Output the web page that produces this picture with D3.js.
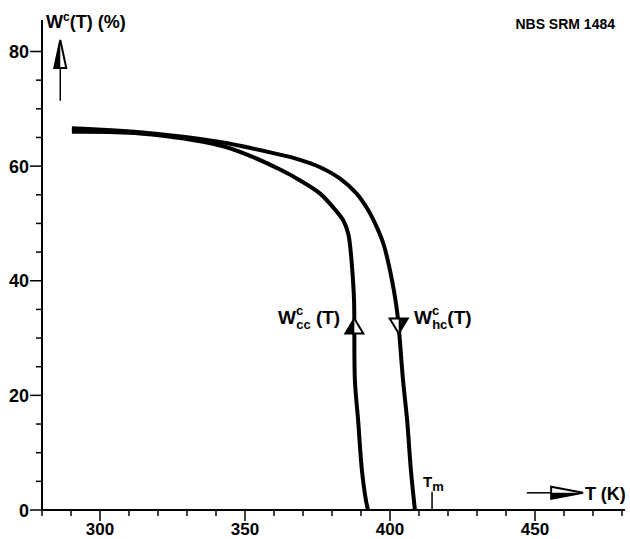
<!DOCTYPE html>
<html>
<head>
<meta charset="utf-8">
<script src="https://cdn.jsdelivr.net/npm/d3@7"></script>
<style>
  body { margin: 0; background: #fff; }
  svg text { font-family: "Liberation Sans", Arial, sans-serif; font-weight: bold; fill: #000; }
</style>
</head>
<body>
<div id="chart"></div>
<script>
// heating curve W^c_hc(T): temperature (K), crystallinity (%)
const hcT = [290.3, 313.8, 341.4, 362.1, 369.0, 375.9, 382.8, 388.5, 392.5, 395.4, 397.7, 400.0, 402.4, 404.5, 405.9, 407.2, 408.6];
const hcW = [66.6, 65.9, 64.2, 62.0, 61.1, 59.8, 57.8, 55.2, 52.3, 49.4, 46.5, 41.8, 34.8, 22.6, 15.7, 7.0, 0];
// cooling curve W^c_cc(T)
const ccT = [290.3, 313.8, 341.4, 351.7, 362.1, 369.0, 375.9, 380.4, 383.9, 385.6, 386.4, 387.0, 387.6, 387.9, 389.0, 390.3, 391.7, 392.4];
const ccW = [66.0, 65.7, 63.6, 61.8, 59.4, 57.5, 55.2, 52.8, 50.5, 48.2, 45.3, 41.8, 36.6, 22.6, 15.7, 7.0, 1.7, 0];

const xTicks = [300, 350, 400, 450];
const yTicks = [0, 20, 40, 60, 80];
const meltT = 414.5;

const width = 630, height = 539;
const svg = d3.select("#chart").append("svg")
    .attr("width", width)
    .attr("height", height);

const x = d3.scaleLinear().domain([280, 480]).range([42, 622]);
const y = d3.scaleLinear().domain([0, 80]).range([510, 51.5]);

// axes lines
svg.append("line")
    .attr("x1", x(280)).attr("x2", x(481))
    .attr("y1", y(0)).attr("y2", y(0))
    .attr("stroke", "#000").attr("stroke-width", 2);
svg.append("line")
    .attr("x1", x(280)).attr("x2", x(280))
    .attr("y1", y(0)).attr("y2", y(85.5))
    .attr("stroke", "#000").attr("stroke-width", 2);

// x ticks (minor every 10, major labelled)
d3.range(280, 481, 10).forEach(t => {
    const major = xTicks.includes(t);
    svg.append("line")
        .attr("x1", x(t)).attr("x2", x(t))
        .attr("y1", y(0)).attr("y2", y(0) + (major ? 11 : 6))
        .attr("stroke", "#000").attr("stroke-width", 1.5);
});
svg.selectAll(".xlab").data(xTicks).enter().append("text")
    .attr("x", d => x(d)).attr("y", y(0) + 25)
    .attr("text-anchor", "middle")
    .attr("font-size", 17)
    .text(d => d);

// y ticks (minor every 5)
d3.range(0, 81, 5).forEach(w => {
    const major = yTicks.includes(w);
    svg.append("line")
        .attr("x1", x(280)).attr("x2", x(280) - (major ? 12 : 6))
        .attr("y1", y(w)).attr("y2", y(w))
        .attr("stroke", "#000").attr("stroke-width", 1.5);
});
svg.selectAll(".ylab").data(yTicks).enter().append("text")
    .attr("x", x(280) - 13).attr("y", d => y(d) + 6.5)
    .attr("text-anchor", "end")
    .attr("font-size", 18)
    .text(d => d);

// curves
const line = d3.line().curve(d3.curveCatmullRom.alpha(0.5));
const hcPts = hcT.map((t, i) => [x(t), y(hcW[i])]);
const ccPts = ccT.map((t, i) => [x(t), y(ccW[i])]);
[hcPts, ccPts].forEach(p => {
    svg.append("path")
        .attr("d", line(p))
        .attr("fill", "none")
        .attr("stroke", "#000")
        .attr("stroke-width", 4)
        .attr("stroke-linecap", "butt");
});

// half-filled arrowhead, dir: "up" | "down" | "right"
function arrowHead(cx, cy, dir, len, half) {
    let outline, fill;
    if (dir === "up") {
        outline = [[cx, cy], [cx - half, cy + len], [cx + half, cy + len]];
        fill = [[cx, cy], [cx - half, cy + len], [cx, cy + len]];
    } else if (dir === "down") {
        outline = [[cx, cy], [cx - half, cy - len], [cx + half, cy - len]];
        fill = [[cx, cy], [cx + half, cy - len], [cx, cy - len]];
    } else {
        outline = [[cx, cy], [cx - len, cy - half], [cx - len, cy + half]];
        fill = [[cx, cy], [cx - len, cy + half], [cx - len, cy]];
    }
    svg.append("path").attr("d", "M" + outline.join("L") + "Z")
        .attr("fill", "#fff").attr("stroke", "#000").attr("stroke-width", 2)
        .attr("stroke-linejoin", "miter");
    svg.append("path").attr("d", "M" + fill.join("L") + "Z").attr("fill", "#000");
}

// direction arrows on curves
arrowHead(x(387.7), y(33.4), "up", 15, 9);
arrowHead(x(403.0), y(30.8), "down", 15, 9);

// y axis arrow
svg.append("line")
    .attr("x1", x(286.3)).attr("x2", x(286.3))
    .attr("y1", y(71.4)).attr("y2", y(80))
    .attr("stroke", "#000").attr("stroke-width", 1.5);
arrowHead(x(286.3), y(82.0), "up", 28, 6);

// x axis arrow
svg.append("line")
    .attr("x1", x(447.2)).attr("x2", x(456))
    .attr("y1", y(3.0)).attr("y2", y(3.0))
    .attr("stroke", "#000").attr("stroke-width", 1.5);
arrowHead(x(466.6), y(3.0), "right", 32, 6);
svg.append("text")
    .attr("x", x(467.2)).attr("y", y(3.0) + 7)
    .attr("font-size", 18)
    .text("T (K)");

// melting point marker
svg.append("line")
    .attr("x1", x(meltT)).attr("x2", x(meltT))
    .attr("y1", y(0)).attr("y2", y(3.2))
    .attr("stroke", "#000").attr("stroke-width", 1.5);
const tm = svg.append("text")
    .attr("x", x(meltT) - 9).attr("y", y(3.2) - 5)
    .attr("font-size", 15);
tm.append("tspan").text("T");
tm.append("tspan").attr("font-size", 13).attr("dy", 4).text("m");

// y axis title
const yt = svg.append("text")
    .attr("x", 46).attr("y", 28)
    .attr("font-size", 18);
yt.append("tspan").text("W");
yt.append("tspan").attr("font-size", 12).attr("dy", -7).text("c");
yt.append("tspan").attr("dy", 7).text("(T) (%)");

// curve labels
const lc = svg.append("text")
    .attr("x", 278).attr("y", 324)
    .attr("font-size", 19);
lc.append("tspan").text("W");
lc.append("tspan").attr("font-size", 13).attr("dy", -9).text("c");
lc.append("tspan").attr("font-size", 13).attr("dx", -7).attr("dy", 14).text("cc");
lc.append("tspan").attr("dy", -5).text(" (T)");

const lh = svg.append("text")
    .attr("x", 414).attr("y", 324)
    .attr("font-size", 19);
lh.append("tspan").text("W");
lh.append("tspan").attr("font-size", 13).attr("dy", -9).text("c");
lh.append("tspan").attr("font-size", 13).attr("dx", -7).attr("dy", 14).text("hc");
lh.append("tspan").attr("dy", -5).text("(T)");

// sample label
svg.append("text")
    .attr("x", 615).attr("y", 29)
    .attr("text-anchor", "end")
    .attr("font-size", 14)
    .text("NBS SRM 1484");
</script>
</body>
</html>
